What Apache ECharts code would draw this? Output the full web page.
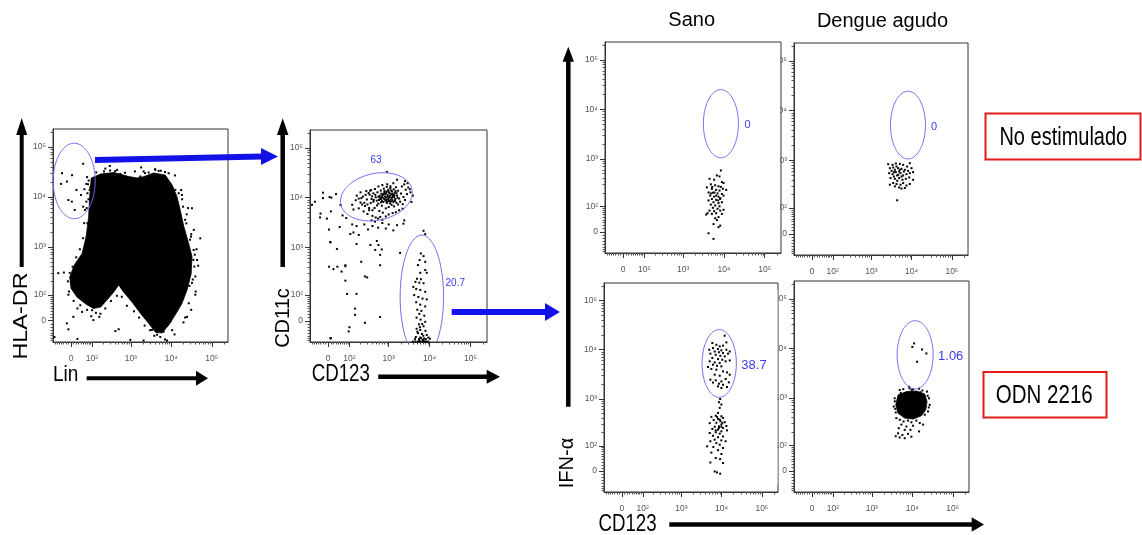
<!DOCTYPE html>
<html><head><meta charset="utf-8">
<script src="https://cdn.jsdelivr.net/npm/echarts@6/dist/echarts.min.js"></script>
<style>html,body{margin:0;padding:0;background:#fff;}#c{width:1142px;height:535px;}</style>
</head><body><div id="c"></div>
<script>
// ---------- axis tick values (fluorescence intensity) ----------
const tickValues = [0, 100, 1000, 10000, 100000];
const tickLabels = ['0', '10²', '10³', '10⁴', '10⁵'];
const minorTickValues = [-70,-60,-50,-40,-30,-20,-10,10,20,30,40,50,60,70,80,90,
  200,300,400,500,600,700,800,900,2000,3000,4000,5000,6000,7000,8000,9000,
  20000,30000,40000,50000,60000,70000,80000,90000,200000];
const columnTitles = ['Sano', 'Dengue agudo'];
const rowLabels = ['No estimulado', 'ODN 2216'];
const axisTitles = {p1x:'Lin', p1y:'HLA-DR', p2x:'CD123', p2y:'CD11c', gx:'CD123', gy:'IFN-α'};

// ---------- Panel 1: HLA-DR vs Lin ----------
const p1Blob = [[95,24000],[175,28800],[380,30900],[890,25700],[1410,24000],[2090,25500],[3630,30200],[7080,27500],
 [10500,17400],[13800,10200],[16600,5500],[20400,2570],[26900,1170],[32400,645],[30900,285],[24500,130],[18200,58],
 [12600,19],[8700,-13],[5900,-40],[4070,-37],[2750,-8],[1740,23],[1070,65],[660,117],[500,168],[380,117],[253,74],
 [175,45],[110,40],[61,58],[23,89],[0,141],[-5,247],[13,437],[45,740],[65,1620],[79,4070],[85,10200]];
const p1Events = [[-36,29900],[4,27300],[50,46100],[-40,18300],[-16,20400],[-10,8700],[3,8070],[21,13800],[40,11000],
 [56,14300],[66,18300],[79,21300],[72,11900],[89,15700],[50,6400],[66,8070],[14,5500],[100,12800],
 [-53,296],[-28,305],[-10,-27],[414,-33],[973,-67],[25,-63],[-73,-55],[110,2],[95,14],[51900,1490],[32400,5960],
 [4030,34900],[457,34900],[139,3430],[-16,-8],[172,22],[7820,-70],[5350,-55],[2070,-70],[24400,12],[39200,101],
 [39200,253],[43100,547],[18300,11000],[12600,13900],[2070,32400],[973,23800],[9,12],[500,-27],
 [213,32400],[305,33900],[550,29000],[1720,25700],[2760,30900],[4860,33300],[8600,29900],[15200,11900],[19400,6400],
 [23500,2970],[30600,1610],[35600,869],[37000,403],[32400,186],[13800,34],[9460,-3],[6470,-35],[4430,-46],[3330,-29],
 [52,468],[27,401],[3,186],[-10,101],[37,52],[101,34],[72,2980],[69,1180],[59,5510],[85,13900],
 [133,31000],[230,37000],[410,33000],[720,30500],[1260,32500],[2240,30000],[3980,36000],[7000,31500],[12300,27000],
 [300,41700],[1800,39000],[5500,33500],
 [17500,13800],[18500,9000],[26000,6000],[22000,3500],[36000,2200],[29000,1400],[42000,900],[35000,550],[46000,420],
 [34000,219],[40000,120],[27000,60],[31000,35],[20000,-5],[22000,10],[12000,-45],[10500,-30],[7000,-65],
 [24000,4500],[31000,1800],[38000,700],[28000,160],
 [70,25000],[75,18000],[78,9000],[68,6000],[55,3000],[50,1500],[35,900],[20,620],[6,400],[-5,300],[-12,200],
 [-8,120],[10,70],[25,40],[45,28],[70,35],[130,25],[160,12],[230,40],[320,70],[450,95],
 [600,90],[800,50],[1200,30],[1600,10],[2200,-15],[3000,-30],[3800,-50]];
const p1Gates = [[12, 20900, 0.518, 0.755, 0]];   // centre x, centre y, radii (decades), tilt (deg)
const p1GateLabels = [null];

// ---------- Panel 2: CD11c vs CD123 ----------
const p2Events = [
 [620,9800],[710,11200],[830,8700],[950,10400],[1050,12300],[560,7600],[680,6900],[790,9300],[900,7800],[1120,9100],
 [1250,10800],[1400,12600],[1600,11000],[1800,9600],[480,10200],[530,12800],[640,13900],[760,15200],[880,13100],[990,14500],
 [1150,14000],[1300,8200],[1450,9400],[1700,13800],[2000,12100],[2300,10300],[420,8300],[450,6200],[590,5400],[720,5000],
 [850,6100],[1000,6500],[1180,7200],[1350,6700],[1550,7900],[1900,8300],[2200,7400],[380,9400],[340,11500],[300,7300],
 [560,16800],[700,17900],[920,18600],[1100,17000],[1500,16200],[1300,19500],[820,11900],[670,10500],[740,8200],[1020,8600],
 [1230,12000],[950,9200],[860,10100],[580,9000],[1380,11200],[1650,10000],[780,12600],[520,7000],[650,8100],[1080,11000],
 [1200,13400],[900,16500],[1700,7300],[2500,9000],[2800,11800],[2600,14400],[2100,16800],[420,12200],[350,13800],[460,14900],
 [640,9400],[700,10100],[760,9700],[820,10600],[880,9000],[940,11300],[1000,9700],[1060,10200],[1130,8400],[1200,9900],
 [1280,11600],[1360,10300],[730,11700],[870,12300],[1010,12900],[1160,11700],[600,10900],[680,8700],[920,8200],[1080,7700],
 [1240,8900],[1420,8600],[1560,12300],[1480,13500],[790,13600],[950,13800],[1100,15600],[660,12000],[560,10400],[1330,14700],
 [200,8000],[230,10500],[260,6800],[290,9200],[320,12400],[360,7800],[390,10600],[430,9000],[470,11400],[510,8700],
 [280,13600],[330,6200],[370,14200],[400,5600],[180,9600],[220,7300],[3000,16000],[2400,18500],[3400,12800],
 [120,7200],[150,8900],[180,6100],[210,9800],[240,5300],[270,11400],[200,12800],[160,11000],[130,5800],[250,7900],
 [300,4700],[330,5600],[400,4300],[480,4000],[550,3800],[620,4100],[380,3500],[460,3300],[700,3600],[850,4200],
 [1000,4600],[1250,4900],[1500,5100],[1800,5600],[2200,6000],
 [3300,14800],[3900,11000],[3600,8200],[2900,19500],[1600,23000],[900,33000],[2500,21500],[-20,9800],[-55,8300],[5,10300],
 [30,11800],[50,7100],[10,5300],[-30,4800],[60,4400],[80,3900],[250,2900],[310,2300],[400,2700],[550,2500],
 [700,3100],[850,2400],[1000,2900],[1300,2200],[1600,2800],[120,2900],[2400,3500],
 [46,2570],[3,2290],[158,2690],[106,1860],[130,2000],[180,1780],[8,1260],[158,1175],[355,1120],[513,1350],
 [562,1120],[34,933],[468,891],[676,912],[1900,776],[617,708],[75,417],[209,513],[617,437],[20,363],
 [55,324],[259,257],[295,245],[75,210],[85,107],[158,107],[144,40],[144,19],[617,12],[259,-6],
 [100,-20],[95,-34],[10,-60],[-70,7200],[-20,12600],[12,10000],[-32,4000],[-5,3800],[8,1290],[36,407],
 [3,407],[75,437],[8,-60],[2290,3000],
 [7800,1850],[7100,2160],[6100,755],[7100,668],[5700,555],[7800,513],[5200,440],[7800,349],[5900,306],[8500,306],
 [4900,230],[6100,225],[4500,198],[5600,190],[7100,185],[4000,154],[4700,139],[5900,132],[7800,120],[4200,100],
 [5300,90],[6700,82],[8500,78],[4700,65],[5900,55],[7800,48],[5000,36],[6300,32],[5600,22],[7400,16],
 [4800,10],[6000,4],[7800,-3],[5500,-11],[7100,-17],[4800,-25],[5900,-29],[7900,-32],[5200,-40],[6500,-43],
 [8500,-47],[4600,-55],[5900,-57],[7300,-61],[9300,-57],[5500,-64],[6800,-67],[8100,-64],[10100,-62],[4400,-64],
 [3900,-75],[4500,-75],[5200,-75],[6000,-75],[6800,-75],[7600,-75],[8500,-75],[9300,-75],[5600,-72],[7200,-72],
 [5800,-20],[6600,-10],[5000,-35],[7000,-50],[6200,-60]];
const p2Gates = [[500, 10400, 0.888, 0.47, 12], [6460, 91, 0.53, 1.24, 0]];
const p2GateLabels = [['63', 490, 57100], ['20.7', 42200, 187]];

// ---------- Panel 3: Sano, no estimulado ----------
const p3Events = [[8400,582],[6690,461],[7780,440],[4420,394],[5750,377],[8890,338],[9770,322],[4760,303],[6090,289],[7360,276],
 [8400,268],[3800,262],[5050,244],[6440,232],[7780,224],[9400,244],[11350,232],[4180,205],[5340,202],[6950,195],
 [8890,190],[4590,175],[5750,166],[7360,166],[9770,175],[5050,148],[6440,141],[8090,148],[4180,137],[5540,125],
 [7360,119],[8890,125],[4760,110],[6090,105],[7780,100],[5340,92],[6950,87],[4420,78],[5750,75],[8090,78],
 [9770,82],[3950,66],[5050,63],[6440,66],[8890,63],[3660,60],[7360,50],[6090,46],[6690,39],[5540,25],
 [8090,20],[7360,15],[4180,-4],[5540,-22],[4760,195],[6440,175],[8090,155],[5860,205],[5140,268],[7220,137]];
const p3Gates = [[8400, 5130, 0.43, 0.688, 0]];
const p3GateLabels = [['0', 37900, 4730]];

// ---------- Panel 4: Dengue agudo, no estimulado ----------
const p4Events = [[2620,840],[3360,815],[4060,867],[5100,853],[6170,815],[7740,754],[9020,880],[2880,698],[3490,719],[3840,646],
 [4630,698],[5610,676],[6790,646],[8200,617],[9930,698],[3170,617],[4910,598],[2770,553],[3360,528],[4060,580],
 [4630,513],[5300,553],[6170,497],[7460,528],[9020,553],[10900,580],[3620,474],[5610,474],[2990,440],[3840,425],
 [4910,440],[5940,406],[7180,425],[8690,453],[10900,406],[4380,388],[3490,348],[4220,333],[5300,322],[6170,348],
 [7460,310],[9020,333],[3840,298],[4910,282],[6790,275],[5610,268],[2880,322],[4380,151],[4220,754],[5100,646],
 [6400,598],[3620,580],[4380,497]];
const p4Gates = [[8130, 5130, 0.434, 0.68, 0]];
const p4GateLabels = [['0', 36100, 4810]];

// ---------- Panel 5: Sano, ODN 2216 ----------
const p5Events = [[11940,19300],[7410,12600],[8970,11700],[10860,12100],[6120,10800],[8150,10300],[9860,9700],[13130,10000],
 [6740,9200],[8580,8900],[10860,8550],[5260,8300],[7150,7900],[9300,7500],[11940,7310],[14450,8300],[5880,6800],[8150,6450],
 [10400,6250],[5070,5800],[6740,5500],[8970,5350],[12600,5800],[15890,6050],[6120,4950],[7700,4700],[9860,4580],[4600,4450],
 [5570,4050],[7410,3920],[10860,3620],[13600,3450],[6740,3100],[8970,2950],[15890,3100],[5260,2450],[7150,2380],[9860,2260],
 [12600,2530],[15100,2160],[8580,2030],[6120,2140],[10860,1930],[8150,1790],[13600,1740],[9860,1660],[4950,10000],[15890,9200],
 [5880,13700],[13130,14100],
 [9200,990],[8580,850],[9860,760],[8970,650],[8150,512],[7150,450],[9860,438],[5570,425],[10860,405],[8150,385],
 [6350,365],[9300,348],[11940,330],[7410,321],[5070,315],[9860,295],[8580,270],[13130,275],[6740,265],[10860,250],
 [5880,238],[8150,230],[9860,212],[7150,202],[13600,222],[5070,195],[8970,189],[6120,170],[10860,164],[8150,158],
 [6740,139],[9860,134],[5260,128],[12600,128],[7410,116],[8970,106],[4370,97],[6240,93],[10860,88],[8150,77],
 [5570,66],[9860,60],[7150,44],[9200,40],[5260,28],[10860,26],[6740,-1],[7700,-4],[9200,-8],
 [8970,375],[7700,425],[10400,321],[8580,250],[7150,222],[9860,265]];
const p5Gates = [[8710, 5250, 0.426, 0.69, 0]];
const p5GateLabels = [['38.7', 63700, 4790]];

// ---------- Panel 6: Dengue agudo, ODN 2216 ----------
const p6Core = [[4450,1140],[7150,1340],[12600,1380],[20280,1200],[23100,840],[21500,571],[16780,432],[10450,371],
 [6500,388],[4450,489],[3900,720]];
const p6Events = [[11070,12600],[10050,10700],[17400,9500],[22300,7900],[13100,5360],
 [4900,1440],[6000,1500],[8600,1560],[10400,1500],[14700,1530],[17800,1410],[23100,1340],[8300,1680],
 [25900,980],[26900,720],[24500,530],[20300,455],[3680,980],[3480,667],[3900,505],[4050,388],
 [4900,359],[6100,330],[7850,345],[9500,318],[12600,345],[15300,307],[18500,285],[5380,285],[7150,260],[10450,270],
 [4650,240],[6500,221],[9000,221],[4450,187],[5700,172],[7850,182],[14700,205],[4900,152],[6500,146],[9500,158],[3900,162],
 [5200,1250],[9700,1450],[16000,1300],[24000,1100],[3700,850],[3800,600],[25500,640],[12000,420],[8000,410]];
const p6Gates = [[11750, 7410, 0.444, 0.688, 0]];
const p6GateLabels = [['1.06', 88700, 6760]];

// ---------- scale: logicle-like (arcsinh) display transform ----------
const W = 33.5;
function lgc(v) { return Math.log10(W) + Math.asinh(v / (2 * W)) / Math.LN10; }
const XMIN = 1.08, XMAX = 5.4, YMIN = 1.1, YMAX = 5.36;

const FONT = '"Liberation Sans", Arial, sans-serif';
const majorPos = tickValues.map(lgc);
const minorPos = minorTickValues.map(lgc);
function labelOf(v) {
  let b = 0;
  for (let i = 1; i < majorPos.length; i++) if (Math.abs(majorPos[i] - v) < Math.abs(majorPos[b] - v)) b = i;
  return tickLabels[b];
}

const panels = [
  {grid:{left:53, top:129, width:175, height:213}, events:p1Events, gates:p1Gates, gateLabels:p1GateLabels, cores:[p1Blob], fs:10},
  {grid:{left:310, top:130, width:177, height:212}, events:p2Events, gates:p2Gates, gateLabels:p2GateLabels, cores:[], fs:10},
  {grid:{left:605, top:42, width:176, height:211}, events:p3Events, gates:p3Gates, gateLabels:p3GateLabels, cores:[], fs:11},
  {grid:{left:794, top:43, width:174, height:212}, events:p4Events, gates:p4Gates, gateLabels:p4GateLabels, cores:[], fs:11},
  {grid:{left:604, top:283, width:174, height:209}, events:p5Events, gates:p5Gates, gateLabels:p5GateLabels, cores:[], fs:13},
  {grid:{left:794, top:281, width:175, height:211}, events:p6Events, gates:p6Gates, gateLabels:p6GateLabels, cores:[p6Core], fs:13}
];

function axisPair(dim, gi) {
  const isX = dim === 'x';
  const base = {type:'value', gridIndex:gi, min:isX?XMIN:YMIN, max:isX?XMAX:YMAX, position:isX?'bottom':'left',
    splitLine:{show:false}, splitArea:{show:false}, axisPointer:{show:false}};
  return [
    Object.assign({}, base, {
      axisLine:{show:true, onZero:false, lineStyle:{color:'#333', width:1}},
      axisTick:{show:true, customValues:majorPos, length:5, inside:false, lineStyle:{color:'#333', width:1}},
      axisLabel:{show:true, customValues:majorPos, formatter:labelOf, fontSize:8.5, color:'#555', fontFamily:FONT, margin:isX?12:7}
    }),
    Object.assign({}, base, {
      axisLine:{show:false},
      axisTick:{show:true, customValues:minorPos, length:2.5, inside:false, lineStyle:{color:'#555', width:1}},
      axisLabel:{show:false}
    })
  ];
}

function coreSeries(verts, xi, yi) {
  return {type:'custom', xAxisIndex:xi, yAxisIndex:yi, silent:true, animation:false, z:2,
    data: verts.map(v => [lgc(v[0]), lgc(v[1])]),
    renderItem: (params, api) => {
      if (params.dataIndex !== 0) return null;
      const pts = verts.map(v => api.coord([lgc(v[0]), lgc(v[1])]));
      return {type:'polygon', shape:{points:pts}, style:{fill:'#000', stroke:'#000', lineWidth:0.8}};
    }};
}

function gateSeries(gates, labels, fs, xi, yi) {
  return {type:'custom', xAxisIndex:xi, yAxisIndex:yi, silent:true, animation:false, z:5,
    data: gates.map(g => [lgc(g[0]), lgc(g[1])]),
    renderItem: (params, api) => {
      const g = gates[params.dataIndex];
      const cs = params.coordSys;
      const c = api.coord([lgc(g[0]), lgc(g[1])]);
      const s = api.size([g[2], g[3]]);
      const A = (g[4] || 0) * Math.PI / 180;
      const segs = []; let cur = [];
      const N = 140;
      for (let k = 0; k <= N; k++) {
        const t = -Math.PI / 2 + k / N * 2 * Math.PI;
        const ex = s[0] * Math.cos(t), ey = s[1] * Math.sin(t);
        const x = c[0] + ex * Math.cos(A) + ey * Math.sin(A);
        const y = c[1] - ex * Math.sin(A) + ey * Math.cos(A);
        const inside = x >= cs.x && x <= cs.x + cs.width && y >= cs.y && y <= cs.y + cs.height;
        if (inside) cur.push([x, y]); else { if (cur.length > 1) segs.push(cur); cur = []; }
      }
      if (cur.length > 1) segs.push(cur);
      const children = segs.map(sg => ({type:'polyline', shape:{points:sg}, style:{stroke:'#6b6bf0', lineWidth:1, fill:null}}));
      const lb = labels[params.dataIndex];
      if (lb) {
        const lp = api.coord([lgc(lb[1]), lgc(lb[2])]);
        children.push({type:'text', x:lp[0], y:lp[1], style:{text:lb[0], fill:'#3a3af0', font:fs + 'px ' + FONT,
          align:'center', verticalAlign:'middle', textAlign:'center', textVerticalAlign:'middle'}});
      }
      return {type:'group', children};
    }};
}

const xAxes = [], yAxes = [], series = [], grids = [];
panels.forEach((p, i) => {
  grids.push(Object.assign({show:true, borderColor:'#333', borderWidth:1, backgroundColor:'#fff', containLabel:false, outerBoundsMode:'none'}, p.grid));
  const xs = axisPair('x', i), ys = axisPair('y', i);
  xAxes.push(xs[0], xs[1]); yAxes.push(ys[0], ys[1]);
  const xi = 2 * i, yi = 2 * i;
  p.cores.forEach(cv => series.push(coreSeries(cv, xi, yi)));
  series.push({type:'scatter', xAxisIndex:xi, yAxisIndex:yi, silent:true, animation:false, z:3,
    data:p.events.map(e => [lgc(e[0]), lgc(e[1])]), symbol:'rect', symbolSize:2, itemStyle:{color:'#000', opacity:1}});
  series.push(gateSeries(p.gates, p.gateLabels, p.fs, xi, yi));
});

// ---------- annotations: arrows, titles, boxes ----------
const BLUE = '#1212e8', RED = '#e41b1b';
function txt(t, x, y, o) {
  o = o || {};
  return {type:'text', x, y, rotation:o.rot || 0, scaleX:o.sx || 1, scaleY:o.sy || 1, z:100,
    style:{text:t, font:(o.size || 20) + 'px ' + FONT, fill:'#000', align:o.align || 'center', verticalAlign:'middle',
      textAlign:o.align || 'center', textVerticalAlign:'middle'}};
}
function arrowUp(x, yb, yt, lw, hw, hh, col) {
  return [{type:'rect', z:100, shape:{x:x - lw / 2, y:yt + hh - 1, width:lw, height:yb - (yt + hh - 1)}, style:{fill:col}},
          {type:'polygon', z:100, shape:{points:[[x - hw / 2, yt + hh], [x + hw / 2, yt + hh], [x, yt]]}, style:{fill:col}}];
}
function arrowRight(x0, xt, y, lw, hh, hl, col) {
  return [{type:'rect', z:100, shape:{x:x0, y:y - lw / 2, width:xt - hl - x0 + 1, height:lw}, style:{fill:col}},
          {type:'polygon', z:100, shape:{points:[[xt - hl, y - hh / 2], [xt, y], [xt - hl, y + hh / 2]]}, style:{fill:col}}];
}
const graphics = [].concat(
  // masks: the neighbouring plot area hides the start of the tick labels of the right-hand panels
  [{type:'rect', z:60, shape:{x:768, y:50, width:12, height:195}, style:{fill:'#fff'}},
   {type:'rect', z:60, shape:{x:768, y:290, width:9.5, height:195}, style:{fill:'#fff'}}],
  arrowUp(21.7, 267, 118, 4, 11, 17, '#000'),
  arrowRight(86.7, 208, 378.3, 4, 15, 12, '#000'),
  arrowUp(282.7, 267, 118.3, 4.5, 11.5, 16.7, '#000'),
  arrowRight(378.3, 500, 376.7, 4.5, 14, 13.3, '#000'),
  arrowUp(568.3, 406.7, 46.7, 4.5, 11.4, 15, '#000'),
  arrowRight(669.3, 984, 524.5, 4.5, 14.4, 12.3, '#000'),
  [{type:'polygon', z:100, shape:{points:[[95,157],[262,153.6],[262,159.6],[95,163]]}, style:{fill:BLUE}},
   {type:'polygon', z:100, shape:{points:[[261,148],[278,156.5],[261,165]]}, style:{fill:BLUE}}],
  arrowRight(451.7, 560, 312, 6, 18, 15, BLUE),
  [txt(axisTitles.p1y, 21.5, 316, {rot:Math.PI / 2, sx:1.17}),
   txt(axisTitles.p1x, 53, 375, {align:'left', size:19, sy:1.2}),
   txt(axisTitles.p2y, 283, 318, {rot:Math.PI / 2}),
   txt(axisTitles.p2x, 340.8, 375, {size:18.7, sy:1.25}),
   txt(axisTitles.gy, 567.5, 463, {rot:Math.PI / 2}),
   txt(axisTitles.gx, 627.5, 525, {size:18.7, sy:1.25}),
   txt(columnTitles[0], 691.7, 20.5),
   txt(columnTitles[1], 882.5, 21.5),
   {type:'rect', z:100, shape:{x:985.5, y:113.5, width:155, height:46}, style:{fill:null, stroke:RED, lineWidth:2}},
   {type:'rect', z:100, shape:{x:983.5, y:372, width:123, height:45.5}, style:{fill:null, stroke:RED, lineWidth:2}},
   txt(rowLabels[0], 1063.3, 138, {sy:1.3}),
   txt(rowLabels[1], 1044.3, 396, {size:20.5, sy:1.25})]
);

const chart = echarts.init(document.getElementById('c'), null, {renderer:'canvas', width:1142, height:535});
chart.setOption({
  animation:false,
  backgroundColor:'#fff',
  grid:grids, xAxis:xAxes, yAxis:yAxes, series:series,
  graphic:{elements:graphics}
});
</script>
</body></html>
